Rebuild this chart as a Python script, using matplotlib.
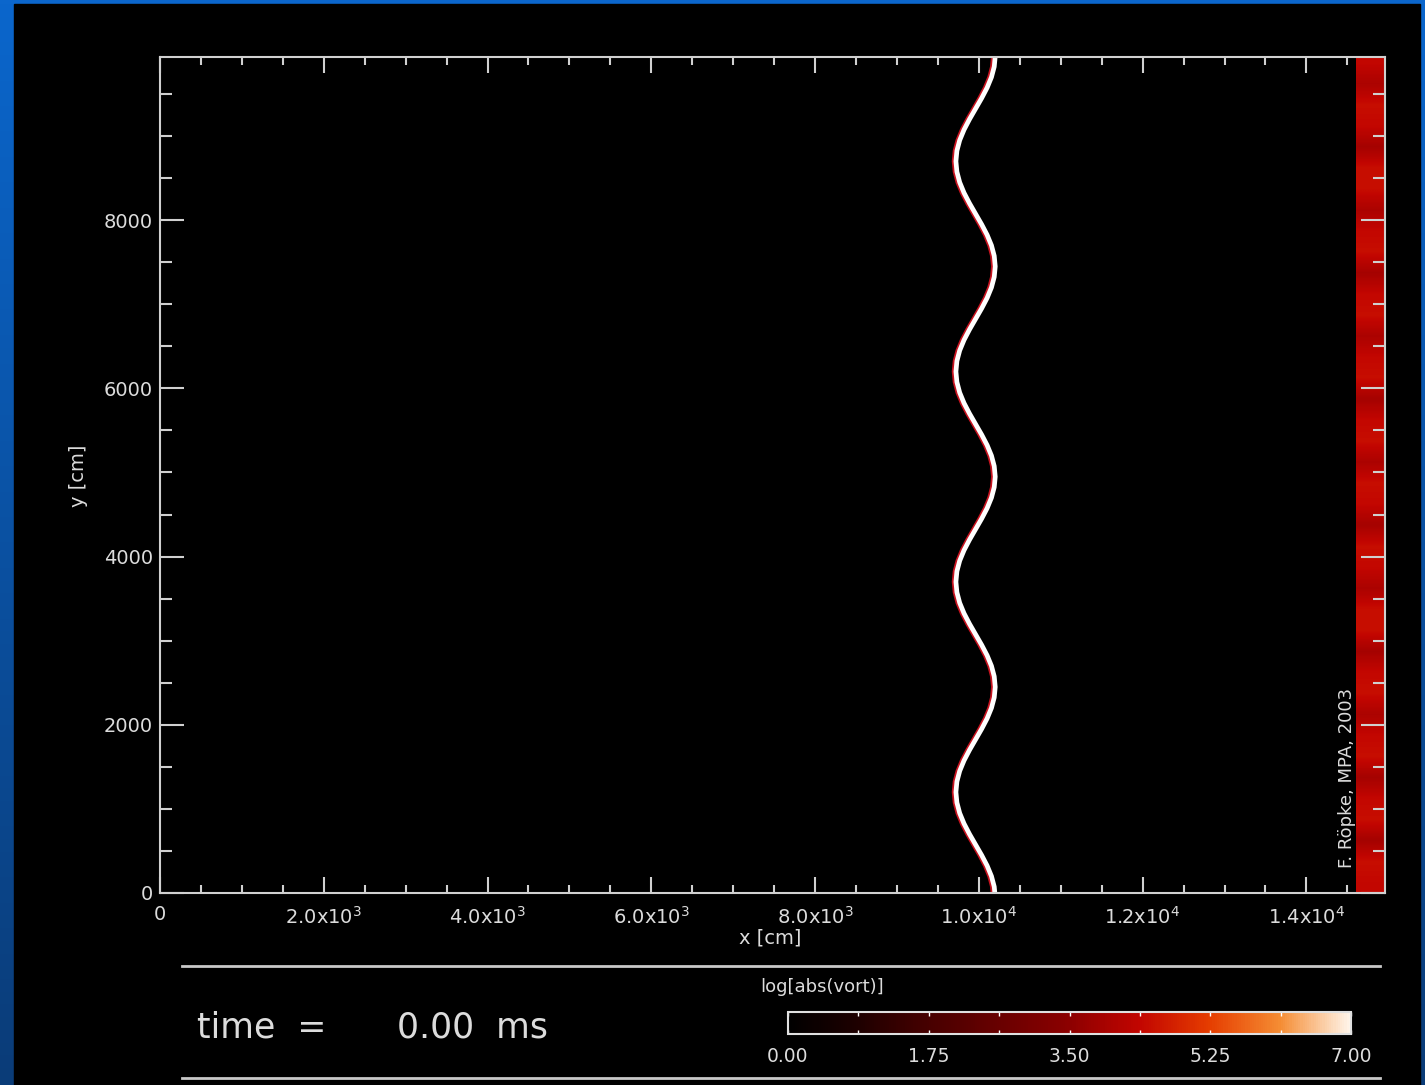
import numpy as np
import matplotlib
matplotlib.use("Agg")
import matplotlib.pyplot as plt
from matplotlib.colors import LinearSegmentedColormap, Normalize
from matplotlib.cm import ScalarMappable
from matplotlib.patches import Rectangle
from matplotlib.ticker import MultipleLocator, FixedLocator, FixedFormatter

# flame front: x position (cm) sampled every 125 cm in y, starting at y = -50
front_y = np.arange(-50, 10000, 125)
front_x = [10200, 10188, 10154, 10101, 10034, 9960, 9886, 9819, 9766, 9732,
           9720, 9732, 9766, 9819, 9886, 9960, 10034, 10101, 10154, 10188,
           10200, 10188, 10154, 10101, 10034, 9960, 9886, 9819, 9766, 9732,
           9720, 9732, 9766, 9819, 9886, 9960, 10034, 10101, 10154, 10188,
           10200, 10188, 10154, 10101, 10034, 9960, 9886, 9819, 9766, 9732,
           9720, 9732, 9766, 9819, 9886, 9960, 10034, 10101, 10154, 10188,
           10200, 10188, 10154, 10101, 10034, 9960, 9886, 9819, 9766, 9732,
           9720, 9732, 9766, 9819, 9886, 9960, 10034, 10101, 10154, 10188,
           10200]

# log|vorticity| in the boundary strip at the right edge (cells of 250 cm)
strip_vort = [4.4, 4.5, 3.9, 4.5, 4.4, 3.9, 4.5, 4.4, 4.0, 4.5,
              4.4, 3.9, 4.5, 4.5, 4.0, 4.4, 4.5, 3.9, 4.4, 4.5,
              4.0, 4.5, 4.4, 3.9, 4.5, 4.4, 4.0, 4.5, 4.4, 3.9,
              4.5, 4.4, 4.0, 4.5, 4.5, 3.9, 4.4, 4.5, 4.0, 4.4]
strip_x = [14610, 14960]

x_major = [0, 2000, 4000, 6000, 8000, 10000, 12000, 14000]
x_labels = ['0', r'2.0x10$^3$', r'4.0x10$^3$', r'6.0x10$^3$', r'8.0x10$^3$',
            r'1.0x10$^4$', r'1.2x10$^4$', r'1.4x10$^4$']
y_major = [0, 2000, 4000, 6000, 8000]
y_labels = ['0', '2000', '4000', '6000', '8000']

cbar_ticks = [0.0, 1.75, 3.5, 5.25, 7.0]
cbar_labels = ['0.00', '1.75', '3.50', '5.25', '7.00']
time_ms = 0.00

W, H = 1425, 1085
FG = '#dcdcdc'

vort_cmap = LinearSegmentedColormap.from_list('vort', [
    (0.000, (0.00, 0.00, 0.00)),
    (0.125, (0.12, 0.00, 0.00)),
    (0.250, (0.28, 0.00, 0.00)),
    (0.375, (0.41, 0.00, 0.00)),
    (0.500, (0.55, 0.00, 0.00)),
    (0.625, (0.76, 0.02, 0.00)),
    (0.750, (0.90, 0.24, 0.00)),
    (0.875, (0.96, 0.55, 0.20)),
    (1.000, (1.00, 0.96, 0.92)),
])
norm = Normalize(0, 7)


def fx(px):
    return px / W


def fy(py):
    return 1 - py / H


fig = plt.figure(figsize=(W / 100, H / 100), dpi=100)

# slide background: blue gradient with a black panel on top
bg = fig.add_axes([0, 0, 1, 1])
grad = np.linspace(0, 1, 256)[:, None]
blue = LinearSegmentedColormap.from_list('blue', ['#0b66cc', '#0a3c78'])
bg.imshow(grad, extent=[0, W, H, 0], cmap=blue, aspect='auto')
bg.add_patch(Rectangle((14, 4), 1406, 1081, color='black'))
bg.plot([182, 1380], [966, 966], color='#c8c8c8', lw=2)
bg.plot([182, 1380], [1078, 1078], color='#c8c8c8', lw=2)
bg.set_xlim(0, W)
bg.set_ylim(H, 0)
bg.axis('off')

ax = fig.add_axes([fx(160), fy(893), fx(1385) - fx(160), fy(57) - fy(893)])
ax.set_facecolor('black')
ax.imshow(np.array(strip_vort)[:, None], extent=[strip_x[0], strip_x[1], 0, 10000],
          origin='lower', cmap=vort_cmap, norm=norm, aspect='auto',
          interpolation='bilinear')

fx_arr = np.array(front_x)
ax.plot(fx_arr - 22, front_y, color='#c81420', lw=3.4, solid_capstyle='butt')
ax.plot(fx_arr, front_y, color='white', lw=3.4, solid_capstyle='butt')

ax.set_xlim(0, 14960)
ax.set_ylim(0, 9940)
ax.xaxis.set_major_locator(FixedLocator(x_major))
ax.xaxis.set_major_formatter(FixedFormatter(x_labels))
ax.xaxis.set_minor_locator(MultipleLocator(500))
ax.yaxis.set_major_locator(FixedLocator(y_major))
ax.yaxis.set_major_formatter(FixedFormatter(y_labels))
ax.yaxis.set_minor_locator(MultipleLocator(500))

for s in ax.spines.values():
    s.set_color('#d0d0d0')
    s.set_linewidth(1.5)
ax.tick_params(axis='both', which='both', direction='in', colors='#d0d0d0',
               top=True, right=True, width=1.5, labelcolor=FG, labelsize=14)
ax.tick_params(axis='x', which='major', length=11.5, pad=9)
ax.tick_params(axis='x', which='minor', length=6)
ax.tick_params(axis='y', which='major', length=17, pad=5)
ax.tick_params(axis='y', which='minor', length=8.5)

fig.text(fx(770), fy(938), 'x [cm]', color=FG, fontsize=14, ha='center', va='center')
fig.text(fx(78), fy(476), 'y [cm]', color=FG, fontsize=14, ha='center', va='center',
         rotation=90)
fig.text(fx(1347), fy(868), 'F. Röpke, MPA, 2003', color=FG, fontsize=13,
         ha='center', va='bottom', rotation=90)

# time stamp
fig.text(fx(197), fy(1028), 'time  =', color=FG, fontsize=25, ha='left', va='center')
fig.text(fx(397), fy(1028), f'{time_ms:.2f}  ms', color=FG, fontsize=25,
         ha='left', va='center')

# colour bar
cax = fig.add_axes([fx(788), fy(1034), fx(1351) - fx(788), fy(1012) - fy(1034)])
cb = fig.colorbar(ScalarMappable(norm=norm, cmap=vort_cmap), cax=cax,
                  orientation='horizontal')
cb.set_ticks(cbar_ticks)
cb.set_ticklabels(cbar_labels)
cax.xaxis.set_minor_locator(MultipleLocator(0.875))
cb.outline.set_edgecolor('#e0e0e0')
cb.outline.set_linewidth(1.5)
cax.tick_params(which='both', direction='in', top=True, bottom=True, length=3,
                width=1, color='white', labelcolor=FG, labelsize=13.5, pad=9)
fig.text(fx(760), fy(987), 'log[abs(vort)]', color=FG, fontsize=13,
         ha='left', va='center')

fig.savefig('out.png', dpi=100)
